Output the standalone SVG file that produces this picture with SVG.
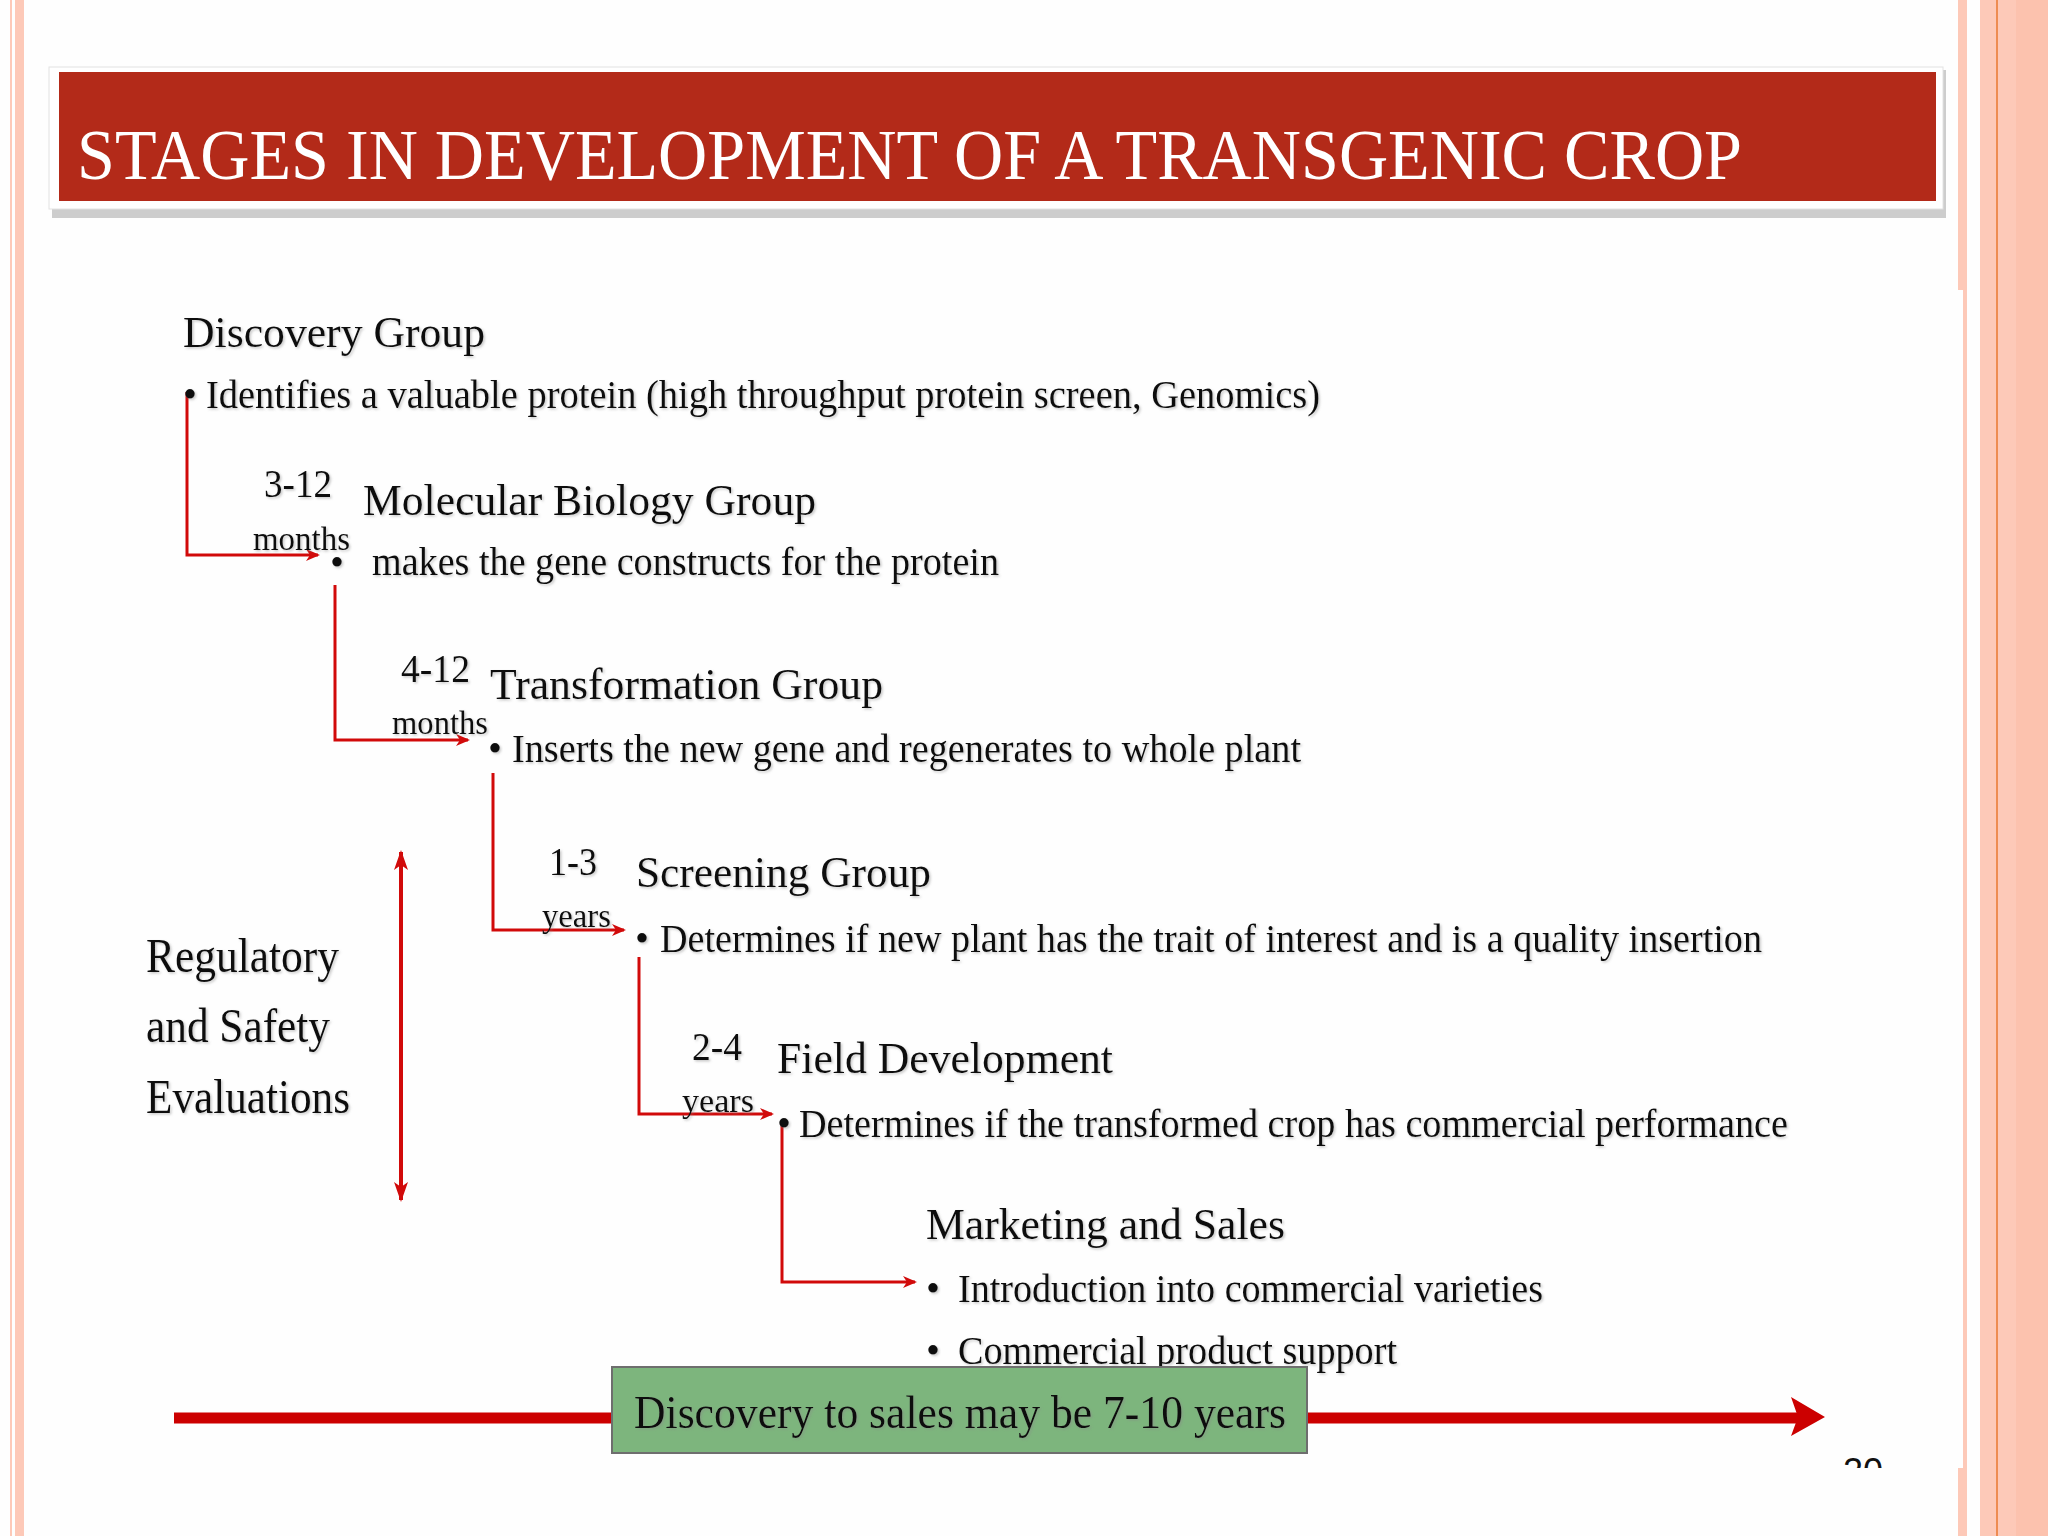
<svg xmlns="http://www.w3.org/2000/svg" width="2048" height="1536" viewBox="0 0 2048 1536">
<style>
  .t { font-family: "Liberation Serif", "Times New Roman", serif; fill: #111; filter: url(#ts); }
  .h { font-size: 45px; }
  .b { font-size: 40px; }
  .n { font-size: 39px; }
  .u { font-size: 33px; }
  .con { fill: none; stroke: #D10A0A; stroke-width: 3; }
  .pink { fill: #FDC9B8; }
</style>
<defs>
  <filter id="ts" x="-5%" y="-20%" width="110%" height="150%">
    <feDropShadow dx="1.5" dy="1.5" stdDeviation="1" flood-color="#888888" flood-opacity="0.45"/>
  </filter>
  <marker id="ah" viewBox="0 0 14 12" refX="12" refY="6" markerWidth="14" markerHeight="12" markerUnits="userSpaceOnUse" orient="auto">
    <path d="M0,0 L14,6 L0,12 L4,6 Z" fill="#D10A0A"/>
  </marker>
  <marker id="ah2" viewBox="0 0 20 14" refX="18" refY="7" markerWidth="20" markerHeight="14" markerUnits="userSpaceOnUse" orient="auto-start-reverse">
    <path d="M0,0 L20,7 L0,14 L5,7 Z" fill="#D10A0A"/>
  </marker>
  <clipPath id="pgclip"><rect x="1800" y="1440" width="120" height="28"/></clipPath>
</defs>

<rect x="0" y="0" width="2048" height="1536" fill="#FEFEFE"/>

<g id="borders">
  <rect class="pink" x="10" y="0" width="2" height="1536"/>
  <rect class="pink" x="15" y="0" width="9" height="1536"/>
  <rect class="pink" x="1958" y="0" width="9" height="290"/>
  <rect class="pink" x="1963" y="290" width="4" height="1178"/>
  <rect class="pink" x="1958" y="1468" width="9" height="68"/>
  <rect class="pink" x="1980" y="0" width="68" height="1536"/>
  <rect x="2016" y="0" width="32" height="1536" fill="#FCC2AE"/>
  <rect x="1996" y="0" width="2" height="1536" fill="#EE8C52"/>
</g>

<g id="title">
  <rect x="52" y="70" width="1894" height="148" fill="#CDCDCD"/>
  <rect x="49" y="67" width="1894" height="142" fill="#FFFFFF" stroke="#E2E2E2" stroke-width="1"/>
  <rect x="59" y="72" width="1877" height="129" fill="#B32A19"/>
  <text x="77" y="179" font-family="Liberation Serif, Times New Roman, serif" font-size="72" fill="#FFFFFF" textLength="1665" lengthAdjust="spacingAndGlyphs">STAGES IN DEVELOPMENT OF A TRANSGENIC CROP</text>
</g>

<g id="connectors">
  <path class="con" d="M187,392 V555 H318" marker-end="url(#ah)"/>
  <path class="con" d="M335,585 V740 H468" marker-end="url(#ah)"/>
  <path class="con" d="M493,773 V930 H624" marker-end="url(#ah)"/>
  <path class="con" d="M639,957 V1114 H772" marker-end="url(#ah)"/>
  <path class="con" d="M782,1123 V1282 H915" marker-end="url(#ah)"/>
  <line x1="401" y1="852" x2="401" y2="1200" stroke="#D10A0A" stroke-width="4" marker-start="url(#ah2)" marker-end="url(#ah2)"/>
</g>

<g id="discovery">
  <text class="t h" x="183" y="347" textLength="302" lengthAdjust="spacingAndGlyphs">Discovery Group</text>
  <text class="t b" x="183" y="408">•</text>
  <text class="t b" x="206" y="408" textLength="1114" lengthAdjust="spacingAndGlyphs">Identifies a valuable protein  (high throughput protein screen, Genomics)</text>
</g>

<g id="molecular">
  <text class="t n" x="264" y="497" textLength="68" lengthAdjust="spacingAndGlyphs">3-12</text>
  <text class="t h" x="363" y="515" textLength="453" lengthAdjust="spacingAndGlyphs">Molecular Biology Group</text>
  <text class="t u" x="253" y="550" textLength="97" lengthAdjust="spacingAndGlyphs">months</text>
  <text class="t b" x="330" y="576">•</text>
  <text class="t b" x="372" y="575" textLength="627" lengthAdjust="spacingAndGlyphs">makes the gene constructs for the protein</text>
</g>

<g id="transformation">
  <text class="t n" x="401" y="682" textLength="69" lengthAdjust="spacingAndGlyphs">4-12</text>
  <text class="t h" x="490" y="699" textLength="393" lengthAdjust="spacingAndGlyphs">Transformation Group</text>
  <text class="t u" x="392" y="734" textLength="96" lengthAdjust="spacingAndGlyphs">months</text>
  <text class="t b" x="488" y="762">•</text>
  <text class="t b" x="512" y="762" textLength="789" lengthAdjust="spacingAndGlyphs">Inserts the new gene and regenerates to whole plant</text>
</g>

<g id="screening">
  <text class="t n" x="549" y="875" textLength="48" lengthAdjust="spacingAndGlyphs">1-3</text>
  <text class="t h" x="636" y="887" textLength="295" lengthAdjust="spacingAndGlyphs">Screening Group</text>
  <text class="t u" x="542" y="927" textLength="69" lengthAdjust="spacingAndGlyphs">years</text>
  <text class="t b" x="635" y="952">•</text>
  <text class="t b" x="660" y="952" textLength="1102" lengthAdjust="spacingAndGlyphs">Determines if new plant has the trait of interest and is a quality insertion</text>
</g>

<g id="field">
  <text class="t n" x="692" y="1060" textLength="50" lengthAdjust="spacingAndGlyphs">2-4</text>
  <text class="t h" x="777" y="1073" textLength="336" lengthAdjust="spacingAndGlyphs">Field Development</text>
  <text class="t u" x="682" y="1112" textLength="72" lengthAdjust="spacingAndGlyphs">years</text>
  <text class="t b" x="777" y="1137">•</text>
  <text class="t b" x="799" y="1137" textLength="989" lengthAdjust="spacingAndGlyphs">Determines if the transformed crop has commercial performance</text>
</g>

<g id="marketing">
  <text class="t h" x="926" y="1239" textLength="359" lengthAdjust="spacingAndGlyphs">Marketing and Sales</text>
  <text class="t b" x="926" y="1302">•</text>
  <text class="t b" x="958" y="1302" textLength="585" lengthAdjust="spacingAndGlyphs">Introduction into commercial varieties</text>
  <text class="t b" x="926" y="1364">•</text>
  <text class="t b" x="958" y="1364" textLength="439" lengthAdjust="spacingAndGlyphs">Commercial product support</text>
</g>

<g id="regulatory">
  <text class="t" font-size="48" x="146" y="972" textLength="193" lengthAdjust="spacingAndGlyphs">Regulatory</text>
  <text class="t" font-size="48" x="146" y="1042" textLength="184" lengthAdjust="spacingAndGlyphs">and Safety</text>
  <text class="t" font-size="48" x="146" y="1113" textLength="204" lengthAdjust="spacingAndGlyphs">Evaluations</text>
</g>

<g id="timeline">
  <line x1="174" y1="1418" x2="1800" y2="1418" stroke="#CC0000" stroke-width="11"/>
  <polygon points="1791,1397 1825,1417 1791,1436 1798,1417" fill="#CC0000"/>
  <rect x="612" y="1367" width="695" height="86" fill="#7DB57D" stroke="#6E6E6E" stroke-width="2"/>
  <text class="t" font-size="47" x="634" y="1428" textLength="652" lengthAdjust="spacingAndGlyphs">Discovery to sales may be 7-10 years</text>
</g>

<g id="page-number">
  <text x="1843" y="1484" font-family="Liberation Sans, Arial, sans-serif" font-size="36" fill="#111" clip-path="url(#pgclip)">20</text>
</g>
</svg>
